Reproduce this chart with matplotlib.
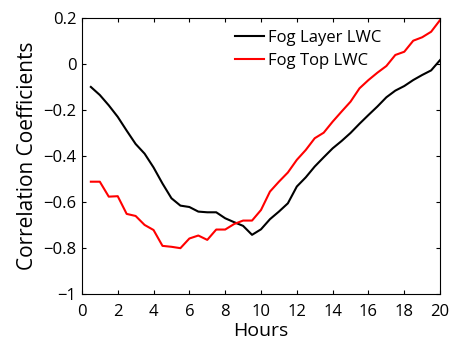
import numpy as np
import matplotlib.pyplot as plt

hours = np.arange(0.5, 20.01, 0.5)

fog_layer = [-0.10, -0.135, -0.18, -0.23, -0.29, -0.348, -0.39, -0.45, -0.52, -0.584,
             -0.616, -0.622, -0.642, -0.645, -0.645, -0.671, -0.688, -0.704, -0.743, -0.719,
             -0.675, -0.642, -0.606, -0.533, -0.493, -0.446, -0.406, -0.367, -0.335, -0.30,
             -0.26, -0.222, -0.185, -0.145, -0.116, -0.096, -0.07, -0.048, -0.028, 0.017]

fog_top = [-0.512, -0.512, -0.577, -0.575, -0.652, -0.661, -0.70, -0.722, -0.791, -0.795,
           -0.801, -0.759, -0.746, -0.765, -0.72, -0.72, -0.696, -0.681, -0.681, -0.635,
           -0.555, -0.512, -0.472, -0.417, -0.374, -0.323, -0.299, -0.251, -0.207, -0.164,
           -0.106, -0.07, -0.038, -0.009, 0.039, 0.053, 0.101, 0.116, 0.14, 0.191]

plt.rcParams['font.family'] = ['Open Sans', 'DejaVu Sans']

fig = plt.figure(figsize=(4.5, 3.45), dpi=100)
ax = fig.add_axes([0.182, 0.148, 0.796, 0.80])

ax.plot(hours, fog_layer, color="black", lw=1.5, label="Fog Layer LWC")
ax.plot(hours, fog_top, color="red", lw=1.5, label="Fog Top LWC")

ax.set_xlim(0, 20)
ax.set_ylim(-1, 0.2)
ax.set_xticks(np.arange(0, 21, 2))
ax.set_yticks(np.arange(-1, 0.21, 0.2))
ax.set_yticklabels(['\u22121', '\u22120.8', '\u22120.6', '\u22120.4', '\u22120.2', '0', '0.2'])
ax.tick_params(direction='in', top=True, right=True, labelsize=12, length=3, width=0.8, pad=4)
ax.tick_params(axis='x', pad=7)
for s in ax.spines.values():
    s.set_linewidth(0.8)

ax.set_xlabel('Hours', fontsize=14, labelpad=2)
ax.set_ylabel('Correlation Coefficients', fontsize=15, labelpad=4)

ax.legend(loc='upper left', frameon=False, fontsize=12, handlelength=1.7,
          handletextpad=0.25, labelspacing=0.4, borderaxespad=0, bbox_to_anchor=(0.41, 0.98))

fig.savefig('out.png', dpi=100)
